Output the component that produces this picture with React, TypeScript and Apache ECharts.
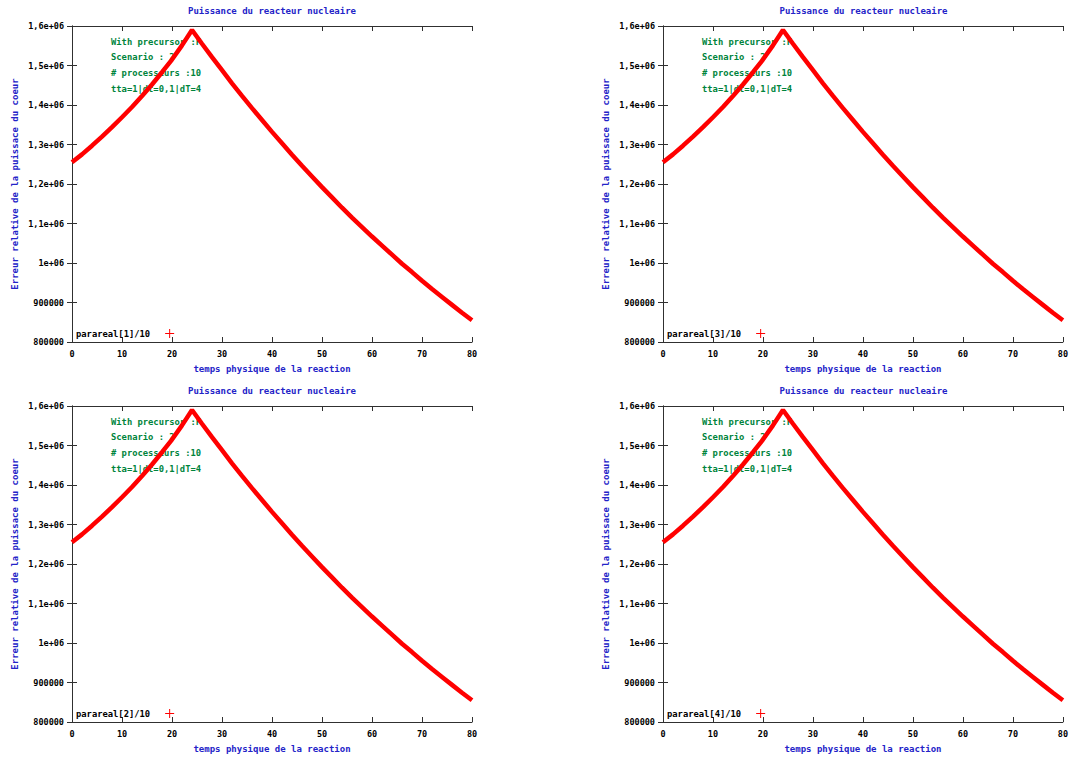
import React, { useEffect, useRef } from "react";
import * as echarts from "echarts";

// ---- data ----
const timeValues = [0, 2, 4, 6, 8, 10, 12, 14, 16, 18, 20, 22, 24, 26, 28, 30, 32, 34, 36, 38, 40, 42, 44, 46, 48, 50, 52, 54, 56, 58, 60, 62, 64, 66, 68, 70, 72, 74, 76, 78, 80];
const powerValues = [
  1255000, 1275000, 1297000, 1320000, 1344000, 1369000, 1395000, 1423000, 1452000, 1483000, 1515000, 1551000, 1590000,
  1555000, 1521000, 1488000, 1455000, 1423000, 1392000, 1362000, 1332000, 1303000, 1274000, 1246000, 1219000, 1192000,
  1166000, 1140000, 1115000, 1091000, 1067000, 1044000, 1021000, 998000, 977000, 955000, 934000, 914000, 894000, 874000, 855000,
];
const seriesNames = ["parareal[1]/10", "parareal[3]/10", "parareal[2]/10", "parareal[4]/10"];
const xTickValues = [0, 10, 20, 30, 40, 50, 60, 70, 80];
const yTickValues = [800000, 900000, 1000000, 1100000, 1200000, 1300000, 1400000, 1500000, 1600000];
const yTickLabels = ["800000", "900000", "1e+06", "1,1e+06", "1,2e+06", "1,3e+06", "1,4e+06", "1,5e+06", "1,6e+06"];
const titleText = "Puissance du reacteur nucleaire";
const xAxisName = "temps physique de la reaction";
const yAxisName = "Erreur relative de la puissace du coeur";
const annotationLines = ["With precursor :F", "Scenario : 2", "# processeurs :10", "tta=1|dt=0,1|dT=4"];

// ---- layout ----
const panels = [
  { left: 72, top: 26, width: 400, height: 316 },
  { left: 663, top: 26, width: 401, height: 316 },
  { left: 72, top: 406, width: 400, height: 316 },
  { left: 663, top: 406, width: 401, height: 316 },
];

const FONT = "DejaVu Sans Mono";
const BLUE = "#2323c8";
const GREEN = "#00843c";
const AXIS = "#303030";
const PLUS = "path://M4,0H5V4H9V5H5V9H4V5H0V4H4Z";

export default function App() {
  const ref = useRef<HTMLDivElement>(null);

  useEffect(() => {
    if (!ref.current) return;
    const chart = echarts.init(ref.current, undefined, { renderer: "svg" });
    const data = timeValues.map((t, i) => [t, powerValues[i]]);

    const grids: any[] = [];
    const xAxes: any[] = [];
    const yAxes: any[] = [];
    const series: any[] = [];
    const titles: any[] = [];
    const legends: any[] = [];
    const graphics: any[] = [];

    panels.forEach((p, i) => {
      grids.push({ left: p.left, top: p.top, width: p.width, height: p.height, containLabel: false });
      const common = {
        gridIndex: i,
        axisLine: { show: true, lineStyle: { color: AXIS, width: 1 } },
        axisTick: { show: true, inside: true, length: 5, lineStyle: { color: AXIS, width: 1 } },
        splitLine: { show: false },
      };
      // bottom x
      xAxes.push({
        ...common,
        type: "value",
        position: "bottom",
        min: 0,
        max: 80,
        interval: 10,
        name: xAxisName,
        nameLocation: "middle",
        nameGap: 22,
        nameTextStyle: { color: BLUE, fontFamily: FONT, fontSize: 9, fontWeight: "bold" },
        axisLabel: {
          color: "#000",
          fontFamily: FONT,
          fontSize: 8.5,
          fontWeight: "bold",
          margin: 7,
          formatter: (v: number) => (xTickValues.includes(v) ? String(v) : ""),
        },
      });
      // top x (mirror)
      xAxes.push({
        ...common,
        type: "value",
        position: "top",
        min: 0,
        max: 80,
        interval: 10,
        axisLabel: { show: false },
      });
      // left y
      yAxes.push({
        ...common,
        type: "value",
        position: "left",
        min: 800000,
        max: 1600000,
        interval: 100000,
        name: yAxisName,
        nameLocation: "middle",
        nameGap: 53,
        nameRotate: 90,
        nameTextStyle: { color: BLUE, fontFamily: FONT, fontSize: 9, fontWeight: "bold" },
        axisLabel: {
          color: "#000",
          fontFamily: FONT,
          fontSize: 8.5,
          fontWeight: "bold",
          margin: 8,
          formatter: (v: number) => {
            const k = yTickValues.indexOf(v);
            return k >= 0 ? yTickLabels[k] : "";
          },
        },
      });
      // right y (mirror)
      yAxes.push({
        ...common,
        type: "value",
        position: "right",
        min: 800000,
        max: 1600000,
        interval: 100000,
        axisLabel: { show: false },
      });
      series.push({
        type: "line",
        name: seriesNames[i],
        xAxisIndex: i * 2,
        yAxisIndex: i * 2,
        data,
        showSymbol: false,
        symbol: "none",
        lineStyle: { color: "#ff0000", width: 4.5 },
        itemStyle: { color: "#ff0000" },
        z: 5,
      });
      titles.push({
        text: titleText,
        left: p.left + p.width / 2,
        top: p.top - 20,
        textAlign: "center",
        padding: 0,
        textStyle: { color: BLUE, fontFamily: FONT, fontSize: 9, fontWeight: "bold" },
      });
      legends.push({
        data: [seriesNames[i]],
        left: p.left + 4,
        top: p.top + p.height - 13,
        padding: 0,
        align: "right",
        orient: "horizontal",
        icon: PLUS,
        itemWidth: 9,
        itemHeight: 9,
        selectedMode: false,
        itemStyle: { color: "#ff0000", borderWidth: 0, borderColor: "transparent" },
        lineStyle: { width: 0, color: "transparent" },
        textStyle: { color: "#000", fontFamily: FONT, fontSize: 8.8, fontWeight: "bold", padding: [0, 10, 0, 0] },
      });
      annotationLines.forEach((line, j) => {
        graphics.push({
          type: "text",
          x: p.left + 39,
          y: p.top + 15.7 + j * 15.7,
          z: 1,
          style: {
            text: line,
            fill: GREEN,
            font: `bold 8.8px "${FONT}"`,
            textVerticalAlign: "middle",
            verticalAlign: "middle",
          },
        });
      });
    });

    chart.setOption({
      animation: false,
      backgroundColor: "#ffffff",
      title: titles,
      legend: legends,
      grid: grids,
      xAxis: xAxes,
      yAxis: yAxes,
      series,
      graphic: graphics,
    });
    return () => chart.dispose();
  }, []);

  return (
    <div
      ref={ref}
      style={{ position: "fixed", left: 0, top: 0, width: 1071, height: 760 }}
    />
  );
}
